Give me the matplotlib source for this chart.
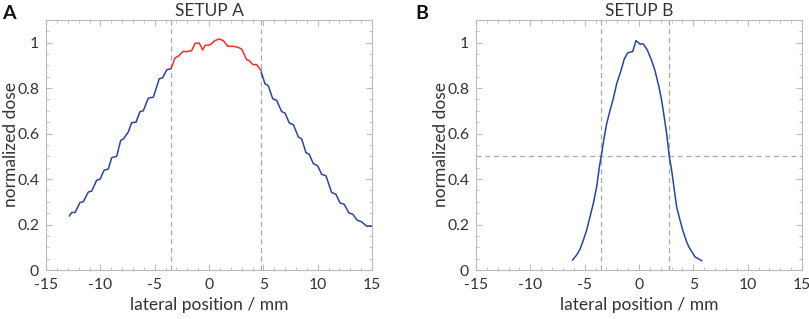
import numpy as np
import matplotlib.pyplot as plt

plt.rcParams['font.family'] = ['Lato', 'DejaVu Sans']
plt.rcParams['axes.unicode_minus'] = False

# Setup A profile (left flank, plateau in red, right flank)
a_left_x = [-12.85, -12.64, -12.33, -11.87, -11.57, -11.11, -10.8, -10.34, -10.03, -9.66,
            -9.27, -8.96, -8.5, -8.13, -7.89, -7.43, -7.12, -6.72, -6.35, -6.05,
            -5.59, -5.13, -4.58, -4.27, -3.9, -3.5]
a_left_y = [0.238, 0.253, 0.253, 0.297, 0.300, 0.343, 0.347, 0.395, 0.399, 0.439,
            0.444, 0.494, 0.500, 0.570, 0.576, 0.607, 0.648, 0.650, 0.697, 0.700,
            0.756, 0.760, 0.841, 0.845, 0.880, 0.886]
a_mid_x = [-3.5, -3.13, -2.83, -2.37, -2.06, -1.6, -1.29, -0.9, -0.58, -0.37,
           0.09, 0.55, 0.94, 1.31, 1.72, 2.23, 2.69, 3.0, 3.46, 3.7,
           4.02, 4.38, 4.8]
a_mid_y = [0.886, 0.933, 0.940, 0.962, 0.960, 0.965, 0.997, 0.998, 0.968, 0.988,
           0.990, 1.009, 1.016, 1.009, 0.984, 0.984, 0.979, 0.972, 0.925, 0.921,
           0.904, 0.903, 0.877]
a_right_x = [4.8, 5.15, 5.45, 5.86, 6.22, 6.68, 6.99, 7.39, 7.76, 8.22,
             8.52, 8.92, 9.22, 9.59, 10.0, 10.36, 10.76, 11.28, 11.68, 12.05,
             12.44, 12.87, 13.21, 13.64, 14.04, 14.5, 14.96]
a_right_y = [0.870, 0.819, 0.811, 0.753, 0.746, 0.697, 0.690, 0.646, 0.639, 0.585,
             0.577, 0.516, 0.509, 0.468, 0.458, 0.421, 0.414, 0.341, 0.333, 0.295,
             0.289, 0.251, 0.246, 0.219, 0.212, 0.193, 0.193]
a_vlines = [-3.5, 4.8]

# Setup B profile
b_x = [-6.12, -5.74, -5.43, -5.12, -4.82, -4.51, -4.21, -3.9, -3.65, -3.44,
       -3.2, -2.98, -2.67, -2.37, -2.06, -1.66, -1.36, -1.04, -0.58, -0.28,
       0.09, 0.39, 0.76, 1.16, 1.47, 1.84, 2.08, 2.32, 2.54, 2.79,
       3.0, 3.25, 3.46, 3.77, 4.07, 4.38, 4.6, 5.15, 5.76]
b_y = [0.044, 0.066, 0.091, 0.132, 0.175, 0.234, 0.292, 0.365, 0.453, 0.512,
       0.585, 0.643, 0.702, 0.753, 0.819, 0.877, 0.928, 0.955, 0.961, 1.009,
       0.994, 0.994, 0.968, 0.921, 0.877, 0.804, 0.746, 0.672, 0.600, 0.497,
       0.439, 0.351, 0.278, 0.219, 0.168, 0.124, 0.100, 0.058, 0.041]
b_vlines = [-3.47, 2.8]
b_hline = 0.5

blue = '#2845a0'
red = '#ff2a2a'
grey = '#a8a8a8'
txt = '#333333'

fig = plt.figure(figsize=(8.09, 3.19), dpi=100)
ax_a = fig.add_axes([0.0569, 0.1536, 0.403, 0.784])
ax_b = fig.add_axes([0.5884, 0.1536, 0.403, 0.784])

for ax in (ax_a, ax_b):
    ax.set_xlim(-15, 15)
    ax.set_ylim(0, 1.1)
    ax.set_xticks(np.arange(-15, 16, 5))
    ax.set_xticks(np.arange(-15, 16, 1), minor=True)
    ax.set_yticks(np.arange(0, 1.01, 0.2))
    ax.set_yticklabels(['0', '0.2', '0.4', '0.6', '0.8', '1'])
    ax.set_yticks(np.arange(0, 1.1, 0.05), minor=True)
    ax.tick_params(which='both', direction='in', top=True, right=True,
                   color='#bbbbbb', labelcolor=txt, labelsize=11.3)
    ax.tick_params(which='major', length=4)
    ax.tick_params(which='minor', length=2)
    ax.tick_params(axis='x', which='major', pad=6)
    ax.tick_params(axis='y', which='major', pad=5)
    for s in ax.spines.values():
        s.set_color('#bbbbbb')
        s.set_linewidth(0.8)
    ax.set_xlabel('lateral position / mm', fontsize=12.5, color=txt, labelpad=3)
    ax.set_ylabel('normalized dose', fontsize=12.5, color=txt)
    ax.yaxis.set_label_coords(-0.083, 0.5)

dash = (0, (4, 3))
for v in a_vlines:
    ax_a.axvline(v, color=grey, lw=0.9, ls=dash)
ax_a.plot(a_left_x, a_left_y, color=blue, lw=1.1)
ax_a.plot(a_right_x, a_right_y, color=blue, lw=1.1)
ax_a.plot(a_mid_x, a_mid_y, color=red, lw=1.1)
ax_a.set_title('SETUP A', fontsize=12.5, color=txt, pad=3)

for v in b_vlines:
    ax_b.axvline(v, color=grey, lw=0.9, ls=dash)
ax_b.axhline(b_hline, color=grey, lw=0.9, ls=dash)
ax_b.plot(b_x, b_y, color=blue, lw=1.1)
ax_b.set_title('SETUP B', fontsize=12.5, color=txt, pad=3)

fig.text(0.002, 0.958, 'A', fontsize=14, fontweight='bold', color='#111111', va='center')
fig.text(0.514, 0.958, 'B', fontsize=14, fontweight='bold', color='#111111', va='center')

fig.savefig('out.png', dpi=100)
